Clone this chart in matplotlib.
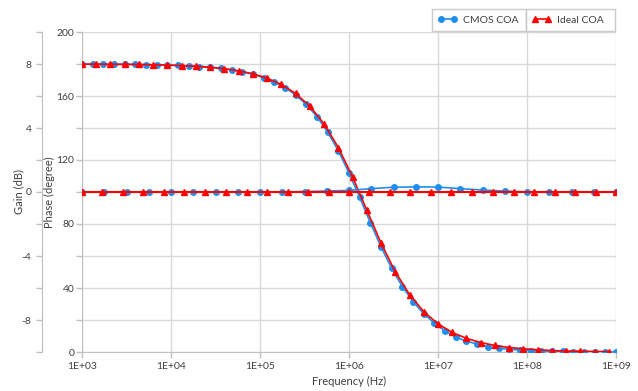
import numpy as np
import matplotlib
matplotlib.use("Agg")
import matplotlib.pyplot as plt
from matplotlib.ticker import FixedLocator, FuncFormatter, NullLocator

plt.rcParams['font.family'] = ['Lato', 'DejaVu Sans']

# --- data (frequencies as log10 exponents) ---
cmos_phase_exp = [3.00, 3.12, 3.24, 3.36, 3.48, 3.60, 3.72, 3.84, 3.96, 4.08,
                  4.20, 4.32, 4.44, 4.56, 4.68, 4.80, 4.92, 5.04, 5.16, 5.28,
                  5.40, 5.52, 5.64, 5.76, 5.88, 6.00, 6.12, 6.24, 6.36, 6.48,
                  6.60, 6.72, 6.84, 6.96, 7.08, 7.20, 7.32, 7.44, 7.56, 7.68,
                  7.80, 7.92, 8.04, 8.16, 8.28, 8.40, 8.52, 8.64, 8.76, 8.88, 9.00]
cmos_phase = [179.9, 179.9, 179.9, 179.8, 179.8, 179.7, 179.6, 179.5, 179.3, 179.1,
              178.8, 178.4, 177.9, 177.2, 176.3, 175.1, 173.6, 171.5, 168.8, 165.3,
              160.7, 154.8, 147.1, 137.5, 125.7, 111.9, 96.6, 80.8, 65.7, 52.2,
              40.8, 31.5, 23.9, 18.0, 13.2, 9.3, 6.8, 4.9, 3.3, 2.4,
              1.7, 1.2, 0.8, 0.6, 0.5, 0.4, 0.3, 0.3, 0.2, 0.1, 0.0]

ideal_phase_exp = [3.00, 3.16, 3.32, 3.48, 3.64, 3.80, 3.96, 4.12, 4.28, 4.44,
                   4.60, 4.76, 4.92, 5.08, 5.24, 5.40, 5.56, 5.72, 5.88, 6.04,
                   6.20, 6.36, 6.52, 6.68, 6.84, 7.00, 7.16, 7.32, 7.48, 7.64,
                   7.80, 7.96, 8.12, 8.28, 8.44, 8.60, 8.76, 8.92]
ideal_phase = [179.9, 179.9, 179.8, 179.8, 179.7, 179.5, 179.3, 179.0, 178.6, 178.0,
               177.1, 175.7, 173.9, 171.1, 167.2, 161.6, 153.6, 142.6, 127.8, 109.4,
               88.7, 68.1, 50.1, 35.9, 25.2, 17.6, 12.2, 8.5, 5.9, 4.1,
               2.8, 2.0, 1.4, 0.9, 0.6, 0.5, 0.3, 0.2]

cmos_gain_exp = [3.00, 3.25, 3.50, 3.75, 4.00, 4.25, 4.50, 4.75, 5.00, 5.25,
                 5.50, 5.75, 6.00, 6.25, 6.50, 6.75, 7.00, 7.25, 7.50, 7.75,
                 8.00, 8.25, 8.50, 8.75, 9.00]
cmos_gain = [0, 0, 0, 0, 0, 0, 0, 0, 0, 0,
             0.03, 0.06, 0.10, 0.21, 0.30, 0.32, 0.31, 0.21, 0.12, 0.06,
             0.01, 0, 0, 0, 0]

ideal_gain_exp = [3.00, 3.23, 3.46, 3.69, 3.92, 4.15, 4.38, 4.62, 4.85, 5.08,
                  5.31, 5.54, 5.77, 6.00, 6.23, 6.46, 6.69, 6.92, 7.15, 7.38,
                  7.62, 7.85, 8.08, 8.31, 8.54, 8.77, 9.00]
ideal_gain = [0] * 27

x_ticks = [1e3, 1e4, 1e5, 1e6, 1e7, 1e8, 1e9]
x_labels = ['1E+03', '1E+04', '1E+05', '1E+06', '1E+07', '1E+08', '1E+09']

blue = '#1F8FEF'
red = '#FF0000'
txt = '#404040'
spine_c = '#BFBFBF'
grid_c = '#D9D9D9'

fig = plt.figure(figsize=(6.38, 3.91), dpi=100)
ax = fig.add_axes([82 / 638, 1 - 352 / 391, 534 / 638, 320 / 391])
ax2 = ax.twinx()

# phase curves
l1, = ax.plot(10 ** np.array(cmos_phase_exp), cmos_phase, color=blue, lw=1.2,
              marker='o', ms=4, mec=blue, zorder=3)
l2, = ax.plot(10 ** np.array(ideal_phase_exp), ideal_phase, color=red, lw=1.2,
              marker='^', ms=4.5, mec=red, zorder=4)
# gain curves
ax2.plot(10 ** np.array(cmos_gain_exp), cmos_gain, color=blue, lw=1.2,
         marker='o', ms=4, mec=blue, zorder=3)
ax2.plot(10 ** np.array(ideal_gain_exp), ideal_gain, color=red, lw=1.5,
         marker='^', ms=4.5, mec=red, zorder=4)

ax.set_xscale('log')
ax.set_xlim(1e3, 1e9)
ax.set_ylim(0, 200)
ax.xaxis.set_major_locator(FixedLocator(x_ticks))
ax.xaxis.set_minor_locator(NullLocator())
ax.set_xticklabels(x_labels)
ax.yaxis.set_major_locator(FixedLocator(range(0, 201, 20)))
ax.yaxis.set_major_formatter(FuncFormatter(lambda v, p: f'{int(v)}' if v % 40 == 0 else ''))
ax.grid(True, color=grid_c, lw=1)
ax.set_axisbelow(True)

ax2.set_ylim(-10, 10)
ax2.yaxis.set_major_locator(FixedLocator(range(-10, 11, 2)))
ax2.yaxis.set_major_formatter(FuncFormatter(lambda v, p: f'{int(v)}' if v % 4 == 0 else ''))
ax2.yaxis.set_ticks_position('left')
ax2.yaxis.set_label_position('left')
ax2.spines['left'].set_position(('outward', 40 * 72 / 100))

for a in (ax, ax2):
    for s in ('top', 'right'):
        a.spines[s].set_visible(False)
    for s in ('left', 'bottom'):
        a.spines[s].set_color(spine_c)
    a.tick_params(colors=spine_c, labelcolor=txt, labelsize=7.5, length=4, width=1)
ax2.spines['bottom'].set_visible(False)
ax.tick_params(axis='y', pad=1.5)

ax.set_xlabel('Frequency (Hz)', fontsize=8, color=txt, labelpad=3)
ax.set_ylabel('Phase (degree)', fontsize=8, color=txt)
ax2.set_ylabel('Gain (dB)', fontsize=8, color=txt)
ax.yaxis.set_label_coords((55 - 82) / 534, 0.5)
ax2.yaxis.set_label_coords((24 - 82) / 534, 0.5)

# legend: two boxed cells above the plot
for h, lab, x0, x1 in ((l1, 'CMOS COA', 431.7, 525.7), (l2, 'Ideal COA', 525.7, 615)):
    leg = fig.legend(handles=[h], labels=[lab], loc='center', mode='expand',
                     bbox_to_anchor=(x0 / 638, 1 - 32 / 391, (x1 - x0) / 638, 24 / 391),
                     borderaxespad=0, fancybox=False, fontsize=7.5, handlelength=1.8,
                     handletextpad=0.6, numpoints=2, labelcolor=txt, borderpad=0.6)
    leg.get_frame().set_edgecolor(spine_c)
    leg.get_frame().set_linewidth(1)

fig.savefig('out.png', dpi=100)
